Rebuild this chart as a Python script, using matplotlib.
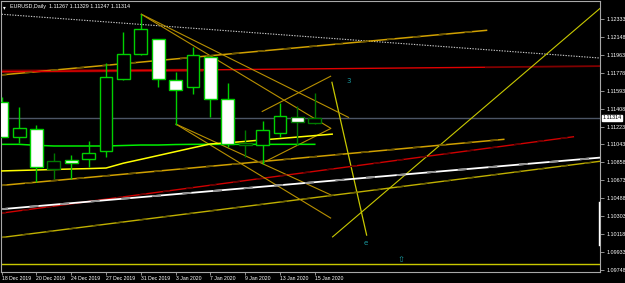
import matplotlib
matplotlib.use("Agg")
import matplotlib.pyplot as plt
from matplotlib.transforms import blended_transform_factory
import numpy as np

# ---------------- data ----------------
opens  = [1.11481, 1.11115, 1.11200, 1.10791, 1.10881, 1.10894, 1.10973, 1.11712, 1.11973, 1.12124,
          1.11705, 1.11630, 1.11945, 1.11506, 1.11040, 1.11038, 1.11156, 1.11327, 1.11265]
highs  = [1.11530, 1.11430, 1.11241, 1.10953, 1.10929, 1.11080, 1.11877, 1.12202, 1.12385, 1.12130,
          1.11787, 1.12048, 1.11955, 1.11677, 1.11190, 1.11286, 1.11465, 1.11437, 1.11568]
lows   = [1.11118, 1.11059, 1.10657, 1.10685, 1.10685, 1.10812, 1.10915, 1.11705, 1.11962, 1.11630,
          1.11241, 1.11561, 1.11321, 1.11018, 1.10915, 1.10840, 1.11115, 1.11038, 1.11252]
closes = [1.11121, 1.11207, 1.10806, 1.10874, 1.10853, 1.10956, 1.11739, 1.11973, 1.12227, 1.11712,
          1.11602, 1.11959, 1.11506, 1.11046, 1.11055, 1.11190, 1.11331, 1.11269, 1.11314]
dim_bar = [0, 0, 0, 1, 0, 0, 0, 0, 0, 0, 0, 0, 0, 0, 1, 0, 0, 1, 1]

ma_yellow = [1.10768, 1.10773, 1.10778, 1.10783, 1.10788, 1.10792, 1.10798, 1.10848, 1.10887, 1.10927,
             1.10967, 1.11007, 1.11046, 1.11058, 1.11072, 1.11088, 1.11102, 1.11117, 1.11132, 1.11147]
ma_green = [1.11042, 1.11042, 1.11032, 1.11025, 1.11025, 1.11025, 1.11025, 1.11030, 1.11035, 1.11035,
            1.11040, 1.11042, 1.11042, 1.11042, 1.11042, 1.11042, 1.11042, 1.11042, 1.11042]

date_tick_idx = [0, 2, 4, 6, 8, 10, 12, 14, 16, 18]
date_tick_labels = ["18 Dec 2019", "20 Dec 2019", "24 Dec 2019", "27 Dec 2019", "31 Dec 2019",
                    "3 Jan 2020", "7 Jan 2020", "9 Jan 2020", "13 Jan 2020", "15 Jan 2020"]
price_ticks = [1.12333, 1.12148, 1.11963, 1.11778, 1.11593, 1.11408, 1.11223, 1.11043,
               1.10858, 1.10673, 1.10488, 1.10303, 1.10118, 1.09933, 1.09748]
current_price = 1.11314
level_yellow = 1.09810
header = "EURUSD,Daily  1.11267 1.11329 1.11247 1.11314"

# trend lines: (bar index, price) endpoints
tl_grey_dotted = [(-1, 1.12395), (36, 1.11910)]
tl_gold_upper  = [(-3, 1.11708), (27.92, 1.12217)]
tl_red_upper   = [(-1, 1.11788), (27.79, 1.11836)]
tl_red_upper_b = [(27.79, 1.11836), (35, 1.11849)]
tl_gold_mid    = [(-3, 1.10570), (28.91, 1.11094)]
tl_red_lower   = [(-3, 1.10262), (32.91, 1.11121)]
tl_white       = [(-1, 1.10359), (36, 1.10930)]
tl_gold_low    = [(-1, 1.10060), (36, 1.10904)]
tl_big_diag    = [(19.0, 1.10085), (36, 1.12687)]
tl_steep       = [(18.98, 1.11687), (20.99, 1.10101)]
tl_wedge_top   = [(14.95, 1.11378), (18.94, 1.11746)]
tl_wedge_bot   = [(14.95, 1.10847), (18.94, 1.11207)]
tl_fan_hi_a    = [(8.0, 1.12385), (19.97, 1.11317)]
tl_fan_hi_b    = [(8.0, 1.12385), (18.94, 1.11205)]
tl_fan_lo_a    = [(10.0, 1.11252), (18.94, 1.10520)]
tl_fan_lo_b    = [(10.0, 1.11252), (18.94, 1.10280)]

marks = [("3", 19.97, 1.11690, 5), ("e", 20.95, 1.10030, 5), ("\u21e7", 22.95, 1.09860, 6)]

# ---------------- figure ----------------
W, H = 625, 283
fig = plt.figure(figsize=(W / 100, H / 100), dpi=100, facecolor="black")
ax = fig.add_axes([1 / W, 11 / H, 599 / W, 271 / H], facecolor="black")
ax.set_xlim(-0.04, 34.4)
ax.set_ylim(1.097271, 1.125184)

def seg(pts, **kw):
    xs = [p[0] for p in pts]
    ys = [p[1] for p in pts]
    ax.plot(xs, ys, solid_capstyle="butt", **kw)

def two_tone(pts, c1, c2, lw, z=2):
    seg(pts, color=c1, lw=lw, zorder=z)
    seg(pts, color=c2, lw=lw, zorder=z + 0.01, dashes=(5, 12))

ax.axhline(level_yellow, color="#c8c800", lw=1.0, zorder=2)
ax.axhline(current_price, color="#4c5565", lw=1.0, zorder=1.5)

seg(tl_grey_dotted, color="#c8c8c8", lw=0.8, dashes=(1.2, 1.2), zorder=2)
two_tone(tl_gold_upper, "#d0a000", "#6b5500", 1.1)
seg(tl_red_upper, color="#e00000", lw=1.0, zorder=2)
seg(tl_red_upper_b, color="#800000", lw=1.3, zorder=2)
ax.plot([-1, 11.5], [1.11795, 1.11805], color="#700000", lw=2.2, zorder=1.9)
two_tone(tl_gold_mid, "#d0a000", "#6b5500", 1.1)
two_tone(tl_red_lower, "#d00000", "#600000", 1.0)
two_tone(tl_white, "#ffffff", "#909090", 1.3, z=2.2)
two_tone(tl_gold_low, "#c0b000", "#6b6000", 1.0)
seg(tl_big_diag, color="#c8c800", lw=0.8, zorder=2)
seg(tl_steep, color="#c8c800", lw=0.9, zorder=2)
for t in (tl_wedge_top, tl_wedge_bot, tl_fan_hi_a, tl_fan_hi_b, tl_fan_lo_a, tl_fan_lo_b):
    seg(t, color="#b89000", lw=0.8, zorder=2)

# moving averages
ax.plot(range(len(ma_green)), ma_green, color="#00ee00", lw=1.1, zorder=2.5)
ax.plot(range(len(ma_yellow)), ma_yellow, color="#ffff00", lw=1.1, zorder=2.6)

# candles
x = np.arange(len(opens))
o = np.array(opens); c = np.array(closes); h = np.array(highs); l = np.array(lows)
bull = c >= o
cols = ["#007a00" if d else "#00d000" for d in dim_bar]
ax.vlines(x, l, h, colors=cols, lw=1.0, zorder=3)
bottoms = np.minimum(o, c)
heights = np.maximum(np.abs(c - o), 0.00001)
faces = ["black" if b else "white" for b in bull]
ax.bar(x, heights, bottom=bottoms, width=0.74, color=faces, edgecolor=cols,
       linewidth=1.0, zorder=4)

# marks
for s, xi, yi, fs in marks:
    ax.text(xi, yi, s, color="#1a9aa0", fontsize=fs, ha="center", va="center",
            family=["DejaVu Sans"], zorder=5)

# right-edge white marker
ax.plot([0.998, 0.998], [0.10, 0.26], transform=ax.transAxes, color="white", lw=1.0,
        zorder=6, clip_on=False)

# axes styling
for side in ("left", "top", "bottom", "right"):
    ax.spines[side].set_color("#a8a8a8")
    ax.spines[side].set_linewidth(0.8)
ax.yaxis.tick_right()
ax.set_yticks(price_ticks)
ax.set_yticklabels([f"{p:.5f}" for p in price_ticks])
ax.tick_params(axis="y", colors="#a8a8a8", labelcolor="white", length=3, width=0.6,
               labelsize=3.9, pad=1.5)
ax.set_xticks(date_tick_idx)
ax.set_xticklabels(date_tick_labels)
ax.tick_params(axis="x", colors="#a8a8a8", labelcolor="white", length=2.5, width=0.6,
               labelsize=3.7, pad=0.3)
for lab in ax.get_xticklabels():
    lab.set_ha("left")
    lab.set_family("Liberation Sans")
for lab in ax.get_yticklabels():
    lab.set_family("Liberation Sans")

# current price label box
tr = blended_transform_factory(ax.transAxes, ax.transData)
ax.text(1.004, current_price, f"{current_price:.5f}", transform=tr, fontsize=3.9,
        family="Liberation Sans", color="black", ha="left", va="center", zorder=10,
        bbox=dict(boxstyle="square,pad=0.15", fc="white", ec="white"), clip_on=False)

# header
ax.text(0.004, 0.985, "\u25be", transform=ax.transAxes, color="white", fontsize=4,
        ha="left", va="top", family="DejaVu Sans")
ax.text(0.015, 0.99, header, transform=ax.transAxes, color="white", fontsize=3.9,
        ha="left", va="top", family="Liberation Sans")

fig.savefig("out.png", dpi=100, facecolor="black")
